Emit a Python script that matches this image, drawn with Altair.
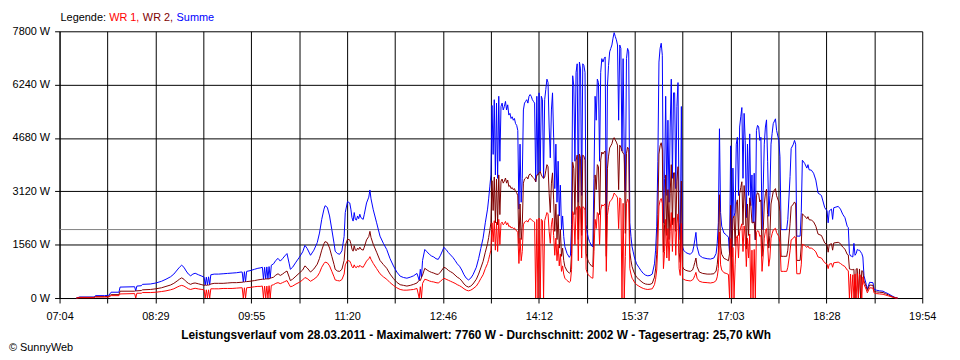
import json
import altair as alt
import pandas as pd

# ---------------- data ----------------
# minutes since midnight
MINUTES = [
    439, 442, 455, 456, 464, 468, 470, 477, 478, 491,
    492, 493, 497, 498, 505, 510, 515, 519, 523, 526,
    529, 531, 533, 535, 537, 539, 541, 543, 545, 548,
    551, 553, 554, 555, 556, 557, 558, 559, 562, 566,
    570, 574, 578, 582, 586, 587, 588, 589, 590, 591,
    594, 598, 601, 603, 605, 606, 607, 608, 609, 610,
    611, 612, 613, 615, 617, 619, 621, 623, 625, 627,
    629, 630, 632, 635, 638, 641, 643, 645, 648, 651,
    654, 656, 658, 660, 661, 663, 665, 667, 669, 670,
    672, 674, 676, 678, 679, 681, 683, 684, 685, 686,
    687, 688, 689, 690, 691, 692, 693, 695, 696, 698,
    700, 701, 702, 704, 707, 710, 713, 716, 719, 722,
    725, 728, 731, 734, 737, 740, 743, 745, 746, 747,
    748, 750, 752, 754, 756, 758, 760, 762, 764, 766,
    767, 769, 771, 773, 775, 777, 779, 781, 783, 785,
    787, 789, 791, 793, 796, 798, 800, 802, 804, 806,
    807, 808, 809, 810,
    811, 812, 813, 814, 815, 816, 817, 818, 819, 820,
    821, 822, 823, 824, 825, 826, 827, 828, 829, 830,
    831, 832, 833, 834, 835, 836, 837, 838, 839, 840,
    841, 842, 843, 844, 845, 846, 847, 848, 849, 850,
    851, 852, 853, 854, 855, 856, 857, 858, 859, 860,
    861, 862, 863, 864, 865, 866, 867, 868, 869, 870,
    871, 872, 873, 874, 875, 877, 879, 880, 881, 882,
    883, 884, 885, 886, 887, 888, 889, 890, 891, 892,
    893, 894, 895, 896, 897, 899, 900, 901, 902, 903,
    904, 905, 906, 907, 908, 909, 910, 911, 912, 913,
    914, 915, 916, 917, 918, 919, 920, 921, 922, 923,
    924, 925, 926, 927, 928, 929, 930, 931, 932, 933,
    934, 935, 936, 937, 938, 939, 941, 943, 945, 947,
    949, 951, 953, 955, 956, 957, 958, 959, 960, 961,
    962, 963, 964, 965, 966, 967, 968, 969, 970, 971,
    972, 973, 974, 975, 976, 977, 978, 979, 980, 981,
    983, 985, 987, 989, 990, 991, 992, 993, 995, 998,
    1002, 1005, 1008, 1010, 1011, 1012, 1013, 1014, 1015, 1017,
    1019, 1021, 1022, 1023, 1024, 1025, 1026, 1027, 1028, 1029,
    1030, 1031, 1032, 1033, 1034, 1035, 1036, 1037, 1038, 1039,
    1040, 1041, 1042, 1043, 1044, 1045, 1046, 1047, 1048, 1049,
    1050, 1051, 1052, 1053, 1054, 1055, 1056, 1057, 1058, 1059,
    1060, 1061, 1063, 1064, 1066, 1067, 1068, 1070, 1073, 1074,
    1076, 1077, 1079, 1080, 1081, 1082, 1085, 1086, 1087, 1089,
    1091, 1092, 1093, 1095, 1097, 1099, 1101, 1104, 1107, 1109,
    1110, 1111, 1113, 1114, 1115, 1117, 1119, 1121, 1123, 1125,
    1127, 1128, 1129, 1130, 1131, 1132, 1133, 1134, 1135, 1136,
    1137, 1138, 1139, 1140, 1141, 1142, 1144, 1145, 1147, 1150,
    1151, 1153, 1156, 1159, 1161, 1164, 1167, 1170, 1172,
]

SUMME = [
    0, 30, 30, 70, 70, 80, 170, 170, 320, 330,
    210, 350, 360, 400, 410, 440, 490, 550, 620, 700,
    820, 900, 960, 900, 790, 700, 650, 700, 725, 680,
    640, 610, 380, 610, 380, 620, 390, 680, 700, 700,
    710, 720, 730, 740, 760, 760, 470, 770, 480, 780,
    800, 840, 870, 880, 900, 550, 900, 560, 910, 560,
    920, 580, 960, 1000, 1100, 1160, 1080, 1150, 1230, 1300,
    1000, 840, 900, 1050, 1190, 1350, 1540, 1450, 1250, 1400,
    1620, 1900, 2300, 2600, 2700, 2650, 2400, 2000, 1600, 1370,
    1300, 1280, 1380, 1800, 2500, 2820, 2780, 2600, 2350, 2250,
    2500, 2300, 2280, 2400, 2320, 2450, 2350, 2300, 2450, 2780,
    2950, 3160, 2900, 2580, 2200, 1810, 1600, 1420, 1150, 940,
    760, 640, 600, 580, 610, 650, 720, 520, 840, 600,
    1100, 1420, 1350, 1280, 1230, 1200, 1150, 1130, 1250, 1400,
    1480, 1420, 1330, 1260, 1190, 1100, 1000, 930, 820, 680,
    580, 530, 580, 680, 900, 1150, 1450, 1750, 2200, 2600,
    2900, 3250, 3600, 5630,
    4200, 5800, 3600, 5700, 3500, 5900, 4000, 5600, 5700, 5500,
    5600, 5750, 5500, 5650, 5350, 5400, 5250, 5300, 5200, 5250,
    5100, 5050, 4900, 2600, 4500, 2800, 3500, 5500, 5700, 5750,
    5800, 5700, 5900, 5950, 5900, 5800, 5750, 5700, 3400, 5900,
    3600, 6000, 3700, 5900, 5800, 3500, 5800, 6100, 6400, 6300,
    5000, 4100, 5500, 6000, 4700, 3200, 4500, 2800, 4000, 2400,
    3300, 2000, 2400, 1800, 1500, 1300, 1190, 1250, 2150, 6500,
    6200, 4000, 6600, 6850, 2800, 6900, 6700, 3000, 6850, 6800,
    6600, 2150, 1900, 1750, 1650, 1520, 1500, 3500, 5900, 5200,
    6400, 6300, 4000, 6600, 7000, 6900, 7000, 7050, 2000, 6200,
    6800, 7200, 7300, 7400, 7600, 7760, 7650, 7550, 7400, 5200,
    7400, 7300, 4300, 7000, 4200, 3100, 7000, 7300, 7200, 2200,
    1800, 1500, 1350, 1200, 1100, 1000, 900, 800, 720, 670,
    650, 660, 700, 1000, 1400, 2100, 4000, 6900, 7300, 7450,
    7100, 2200, 3500, 5900, 3000, 5200, 2800, 5000, 6400, 3500,
    6000, 6000, 3200, 5600, 6300, 2200, 1700, 5600, 1500, 1400,
    1330, 1300, 1280, 1350, 1500, 1700, 1920, 1500, 1250, 1180,
    1150, 1140, 1170, 1300, 1600, 2200, 4950, 2500, 2100, 1900,
    1850, 1780, 1300, 4450, 1200, 3800, 2400, 2500, 4500, 4700,
    3000, 5000, 5300, 5570, 3500, 5400, 4600, 2350, 4500, 3000,
    4800, 2700, 3600, 2200, 3650, 1700, 4900, 5050, 5000, 4610,
    4700, 2000, 3160, 4500, 5000, 5210, 4000, 2390, 3000, 4500,
    4810, 5100, 5240, 4900, 4610, 4130, 2000, 2000, 2000, 2300,
    3550, 4370, 4500, 4610, 4500, 1810, 1810, 2500, 4030, 3940,
    3800, 3900, 3750, 3740, 3650, 3450, 3070, 3000, 2640, 2550,
    2200, 2550, 2600, 2300, 2640, 2660, 2680, 2600, 2450, 2350,
    2100, 2060, 1300, 1230, 1220, 1200, 1600, 1250, 1300, 1420,
    1400, 1400, 1350, 1300, 1200, 650, 400, 260, 460, 450,
    260, 230, 210, 200, 165, 120, 60, 10, 0,
]

WR2 = [
    0, 20, 20, 40, 40, 50, 100, 100, 200, 200,
    210, 210, 220, 240, 250, 270, 300, 340, 380, 430,
    500, 550, 590, 550, 480, 430, 400, 430, 440, 415,
    390, 370, 380, 370, 380, 380, 390, 410, 430, 430,
    430, 440, 450, 450, 460, 460, 470, 470, 480, 480,
    490, 510, 530, 540, 550, 550, 550, 560, 560, 560,
    560, 580, 590, 610, 670, 710, 660, 700, 750, 790,
    610, 510, 550, 640, 730, 820, 940, 880, 760, 850,
    990, 1160, 1400, 1590, 1650, 1620, 1460, 1220, 980, 840,
    790, 780, 840, 1100, 1530, 1720, 1700, 1590, 1430, 1370,
    1530, 1400, 1390, 1460, 1420, 1490, 1430, 1400, 1490, 1700,
    1800, 1950, 1770, 1570, 1340, 1100, 980, 870, 700, 570,
    460, 390, 370, 350, 370, 400, 440, 520, 510, 600,
    670, 870, 820, 780, 750, 730, 700, 690, 760, 850,
    900, 870, 810, 770, 730, 670, 610, 570, 500, 410,
    350, 320, 350, 410, 550, 700, 880, 1070, 1340, 1590,
    1770, 1980, 2200, 3430,
    2560, 3540, 2200, 3480, 2140, 3600, 2440, 3420, 3480, 3360,
    3420, 3510, 3360, 3450, 3260, 3290, 3200, 3230, 3170, 3200,
    3110, 3080, 2990, 1590, 2750, 1710, 2140, 3360, 3480, 3510,
    3540, 3480, 3600, 3630, 3600, 3540, 3510, 3480, 3400, 3600,
    3600, 3660, 3700, 3600, 3540, 3500, 3540, 3720, 3900, 3840,
    3050, 2500, 3360, 3660, 2870, 1950, 2750, 1710, 2440, 1460,
    2010, 1220, 1460, 1100, 920, 790, 730, 760, 1310, 3970,
    3780, 2440, 4030, 4180, 1710, 4210, 4090, 1830, 4180, 4150,
    4030, 1310, 1160, 1070, 1010, 930, 920, 2140, 3600, 3170,
    3900, 3840, 2440, 4030, 4270, 4210, 4270, 4300, 1220, 3780,
    4150, 4390, 4450, 4510, 4640, 4690, 4620, 4560, 4470, 3170,
    4470, 4410, 4300, 4230, 4200, 1890, 4230, 4410, 4350, 1340,
    1100, 920, 820, 730, 670, 610, 550, 490, 440, 410,
    400, 400, 430, 610, 850, 1280, 2440, 4210, 4450, 4540,
    4330, 1340, 2140, 3600, 1830, 3170, 1710, 3050, 3900, 2140,
    3660, 3660, 1950, 3420, 3840, 1340, 1040, 3420, 920, 850,
    810, 790, 780, 820, 920, 1040, 1170, 920, 760, 720,
    700, 700, 710, 790, 980, 1340, 3020, 1530, 1280, 1160,
    1130, 1090, 1300, 2710, 1200, 2320, 2400, 1530, 2750, 2870,
    1830, 3050, 3230, 3400, 2140, 3290, 2810, 1430, 2750, 1830,
    2930, 2700, 2200, 2200, 2230, 1700, 2990, 3080, 3050, 2810,
    2870, 1220, 1930, 2750, 3050, 3180, 2440, 1460, 1830, 2750,
    2930, 3110, 3200, 2990, 2810, 2520, 1220, 1220, 1220, 1400,
    2170, 2670, 2750, 2810, 2750, 1100, 1100, 1530, 2460, 2400,
    2320, 2380, 2290, 2280, 2230, 2100, 1870, 1830, 1610, 1560,
    1340, 1560, 1590, 1400, 1610, 1620, 1630, 1590, 1490, 1430,
    1280, 1260, 850, 840, 830, 830, 840, 0, 850, 860,
    0, 850, 0, 800, 780, 500, 330, 220, 380, 370,
    200, 180, 170, 160, 130, 90, 40, 10, 0,
]

WR1 = [
    0, 10, 10, 30, 30, 30, 70, 70, 120, 130,
    0, 140, 140, 160, 160, 170, 190, 210, 240, 270,
    320, 350, 370, 350, 310, 270, 250, 270, 285, 265,
    250, 240, 0, 240, 0, 240, 0, 270, 270, 270,
    280, 280, 280, 290, 300, 300, 0, 300, 0, 300,
    310, 330, 340, 340, 350, 0, 350, 0, 350, 0,
    360, 0, 370, 390, 430, 450, 420, 450, 480, 510,
    390, 330, 350, 410, 460, 530, 600, 570, 490, 550,
    630, 740, 900, 1010, 1050, 1030, 940, 780, 620, 530,
    510, 500, 540, 700, 970, 1100, 1080, 1010, 920, 880,
    970, 900, 890, 940, 900, 960, 920, 900, 960, 1080,
    1150, 1210, 1130, 1010, 860, 710, 620, 550, 450, 370,
    300, 250, 230, 230, 240, 250, 280, 0, 330, 0,
    430, 550, 530, 500, 480, 470, 450, 440, 490, 550,
    580, 550, 520, 490, 460, 430, 390, 360, 320, 270,
    230, 210, 230, 270, 350, 450, 570, 680, 860, 1010,
    1130, 1270, 1400, 2200,
    1640, 2260, 1400, 2220, 1360, 2300, 1560, 2180, 2220, 2140,
    2180, 2240, 2140, 2200, 2090, 2110, 2050, 2070, 2030, 2050,
    1990, 1970, 1910, 1010, 1750, 1090, 1360, 2140, 2220, 2240,
    2260, 2220, 2300, 2320, 2300, 2260, 2240, 2220, 0, 2300,
    0, 2340, 0, 2300, 2260, 0, 2260, 2380, 2500, 2460,
    1950, 1600, 2140, 2340, 1830, 1250, 1750, 1090, 1560, 940,
    1290, 780, 940, 700, 580, 510, 460, 490, 840, 2530,
    2420, 1560, 2570, 2670, 1090, 2690, 2610, 1170, 2670, 2650,
    2570, 840, 740, 680, 640, 590, 580, 1360, 2300, 2030,
    2500, 2460, 1560, 2570, 2730, 2690, 2730, 2750, 780, 2420,
    2650, 2810, 2850, 2890, 2960, 3070, 3030, 2990, 2930, 2030,
    2930, 2890, 0, 2770, 0, 1210, 2770, 2890, 2850, 860,
    700, 580, 530, 470, 430, 390, 350, 310, 280, 260,
    250, 260, 270, 390, 550, 820, 1560, 2690, 2850, 2910,
    2770, 860, 1360, 2300, 1170, 2030, 1090, 1950, 2500, 1360,
    2340, 2340, 1250, 2180, 2460, 860, 660, 2180, 580, 550,
    520, 510, 500, 530, 580, 660, 750, 580, 490, 460,
    450, 440, 460, 510, 620, 860, 1930, 970, 820, 740,
    720, 690, 0, 1740, 0, 1480, 0, 970, 1750, 1830,
    1170, 1950, 2070, 2170, 1360, 2110, 1790, 920, 1750, 1170,
    1870, 0, 1400, 0, 1420, 0, 1910, 1970, 1950, 1800,
    1830, 780, 1230, 1750, 1950, 2030, 1560, 930, 1170, 1750,
    1880, 1990, 2040, 1910, 1800, 1610, 780, 780, 780, 900,
    1380, 1700, 1750, 1800, 1750, 710, 710, 970, 1570, 1540,
    1480, 1520, 1460, 1460, 1420, 1350, 1200, 1170, 1030, 990,
    860, 990, 1010, 900, 1030, 1040, 1050, 1010, 960, 920,
    820, 800, 0, 700, 0, 680, 0, 700, 0, 720,
    0, 700, 650, 0, 620, 400, 250, 150, 300, 290,
    150, 130, 120, 110, 90, 60, 30, 0, 0,
]

X_LABELS = ["07:04", "08:29", "09:55", "11:20", "12:46",
            "14:12", "15:37", "17:03", "18:28", "19:54"]
X_START = 424   # 07:04
X_END = 1194    # 19:54
Y_TICKS = [0, 1560, 3120, 4680, 6240, 7800]
AVERAGE_W = 2002
TITLE = ("Leistungsverlauf vom 28.03.2011 - Maximalwert: 7760 W - "
         "Durchschnitt: 2002 W - Tagesertrag: 25,70 kWh")
LEGEND_TEXTS = ["Legende:", "WR 1,", "WR 2,", "Summe"]
COPYRIGHT = "\u00a9 SunnyWeb"

# ---------------- styling ----------------
FONT = "Liberation Sans"
C_WR1 = "#ff0000"
C_WR2 = "#800000"
C_SUM = "#0000ff"
LEGEND_COLORS = ["#000000", C_WR1, C_WR2, C_SUM]
LEGEND_X = [1, 50, 84, 118]

n_steps = 18
step = (X_END - X_START) / n_steps
x_ticks = [X_START + k * step for k in range(n_steps + 1)]
arr = json.dumps(X_LABELS)
k_expr = f"round((datum.value - {X_START}) / {step})"
x_label_expr = f"({k_expr} % 2 == 0) ? {arr}[{k_expr} / 2] : ''"

common_axis = dict(
    grid=True, gridColor="#000000", gridWidth=1, gridOpacity=1,
    domainColor="#000000", tickColor="#000000", tickSize=5,
    labelFont=FONT, labelFontSize=11, labelColor="#000000",
    labelFlush=False, labelOverlap=False, title="",
)

X_ENC = alt.X(
    "min:Q",
    scale=alt.Scale(domain=[X_START, X_END], nice=False, zero=False),
    axis=alt.Axis(values=x_ticks, labelExpr=x_label_expr, labelPadding=8, **common_axis),
)
Y_ENC = alt.Y(
    "value:Q",
    scale=alt.Scale(domain=[0, 7800], nice=False),
    axis=alt.Axis(values=Y_TICKS, labelExpr="datum.value + ' W'", labelPadding=5, **common_axis),
)

df_sum = pd.DataFrame({"min": MINUTES, "value": SUMME})
df_wr2 = pd.DataFrame({"min": MINUTES, "value": WR2})
df_wr1 = pd.DataFrame({"min": MINUTES, "value": WR1})

avg = alt.Chart(pd.DataFrame({"value": [AVERAGE_W]})).mark_rule(
    color="#808080", strokeWidth=1
).encode(y=Y_ENC)

line_sum = alt.Chart(df_sum).mark_line(color=C_SUM, strokeWidth=1).encode(x=X_ENC, y=Y_ENC)
line_wr2 = alt.Chart(df_wr2).mark_line(color=C_WR2, strokeWidth=1).encode(x=X_ENC, y=Y_ENC)
line_wr1 = alt.Chart(df_wr1).mark_line(color=C_WR1, strokeWidth=1).encode(x=X_ENC, y=Y_ENC)

one = pd.DataFrame({"a": [0]})
texts = []
for t, c, px in zip(LEGEND_TEXTS, LEGEND_COLORS, LEGEND_X):
    texts.append(
        alt.Chart(one).mark_text(
            text=t, color=c, font=FONT, fontSize=11, align="left", baseline="alphabetic"
        ).encode(x=alt.value(px), y=alt.value(-10))
    )

title_txt = alt.Chart(one).mark_text(
    text=TITLE, color="#000000", font=FONT, fontSize=12, fontWeight="bold",
    align="center", baseline="alphabetic"
).encode(x=alt.value(420), y=alt.value(310))

copy_txt = alt.Chart(one).mark_text(
    text=COPYRIGHT, color="#000000", font=FONT, fontSize=11,
    align="left", baseline="alphabetic"
).encode(x=alt.value(-51), y=alt.value(322))

chart = alt.layer(
    avg, line_sum, line_wr2, line_wr1, *texts, title_txt, copy_txt
).properties(
    width=870, height=269,
    padding={"left": 52, "top": 22, "right": 30, "bottom": 61},
    autosize=alt.AutoSizeParams(type="none"),
    background="#ffffff",
).configure_view(strokeWidth=0)

chart.save("out.html", embed_options={"renderer": "svg", "actions": False})
